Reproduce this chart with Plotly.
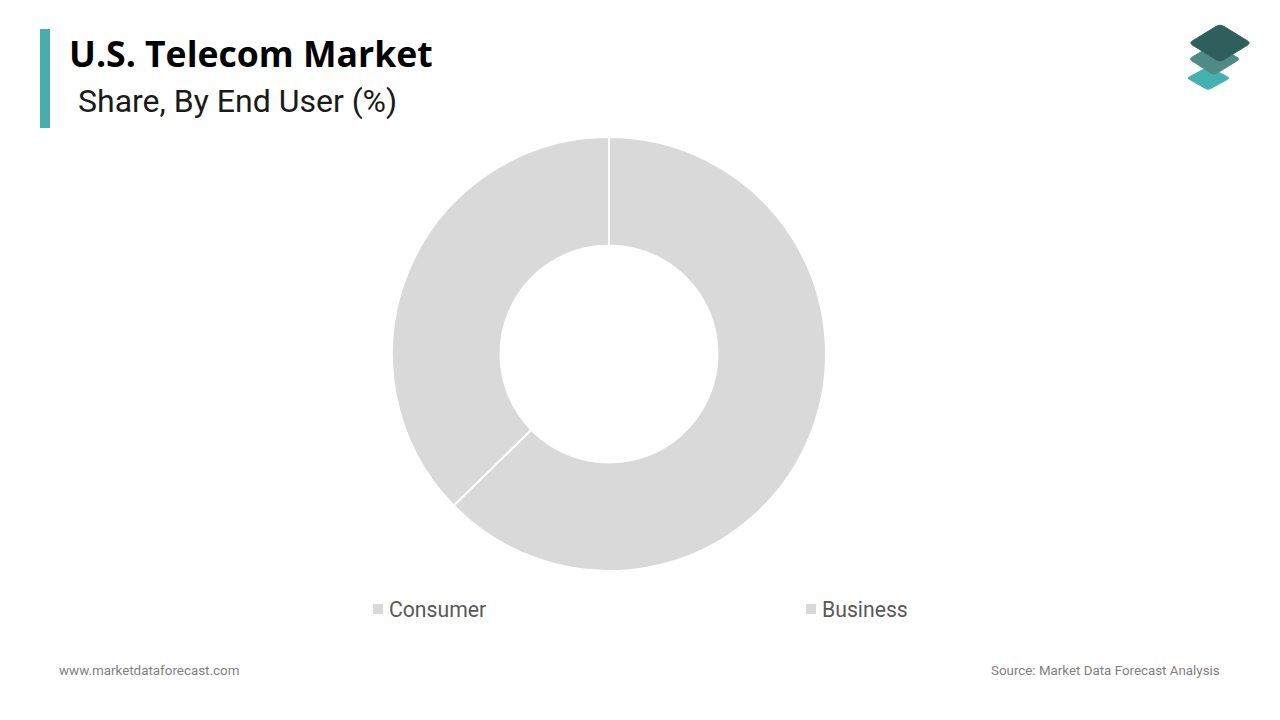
import plotly.graph_objects as go

WIDTH = 1280
HEIGHT = 720

# chart data
labels = ["Consumer", "Business"]
shares = [37.3, 62.7]
slice_colors = ["#d9d9d9", "#d9d9d9"]

title_text = "U.S. Telecom Market"
subtitle_text = "Share, By End User (%)"
site_text = "www.marketdataforecast.com"
source_text = "Source: Market Data Forecast Analysis"

# left edge of each legend entry in page pixels
legend_left = [373, 806]


def px_x(x):
    return x / WIDTH


def px_y(y):
    return 1 - y / HEIGHT


def poly(points, color, r=0.12):
    # logo pieces are given in page pixels, corners rounded a little
    parts = []
    n = len(points)
    for i, (x, y) in enumerate(points):
        px, py = points[i - 1]
        nx, ny = points[(i + 1) % n]
        ax, ay = x + (px - x) * r, y + (py - y) * r
        bx, by = x + (nx - x) * r, y + (ny - y) * r
        parts.append(f"{'M' if i == 0 else 'L'}{px_x(ax)},{px_y(ay)}")
        parts.append(f"Q{px_x(x)},{px_y(y)} {px_x(bx)},{px_y(by)}")
    return dict(type="path", xref="paper", yref="paper", path=" ".join(parts) + " Z",
                fillcolor=color, line=dict(color=color, width=1), layer="above")


def text(x, y, s, size, color, family, xanchor="left", bold=False):
    return dict(x=px_x(x), y=px_y(y), xref="paper", yref="paper", text=f"<b>{s}</b>" if bold else s,
                showarrow=False, xanchor=xanchor, yanchor="middle",
                font=dict(size=size, color=color, family=family))


fig = go.Figure(go.Pie(
    labels=labels[::-1],
    values=shares[::-1],
    hole=0.5,
    sort=False,
    direction="clockwise",
    rotation=0,
    marker=dict(colors=slice_colors, line=dict(color="white", width=2)),
    textinfo="none",
    hoverinfo="label+percent",
    showlegend=False,
    domain=dict(x=[px_x(392), px_x(826)], y=[px_y(571), px_y(137)]),
))

shapes = [
    dict(type="rect", xref="paper", yref="paper", x0=px_x(40), x1=px_x(50), y0=px_y(128), y1=px_y(29),
         fillcolor="#4aacac", line=dict(width=0)),
    poly([(1187, 78), (1208, 67), (1230, 78), (1208, 90)], "#45b0b0"),
    poly([(1189, 59), (1214, 44), (1240, 59), (1214, 75)], "#4f8a86"),
    poly([(1189, 43), (1220, 24), (1251, 43), (1220, 62)], "#2f5f5c"),
]

annotations = [
    text(67, 53, title_text, 35.6, "#000000", "Open Sans", bold=True),
    text(76, 101, subtitle_text, 32, "#1a1a1a", "Roboto"),
    text(57, 670, site_text, 13.4, "#7f7f7f", "Roboto"),
    text(1222, 670, source_text, 13.35, "#7f7f7f", "Roboto", xanchor="right"),
]

# legend entries: small square plus label
for name, color, left in zip(labels, slice_colors, legend_left):
    shapes.append(dict(type="rect", xref="paper", yref="paper",
                       x0=px_x(left), x1=px_x(left + 10), y0=px_y(614), y1=px_y(604),
                       fillcolor=color, line=dict(width=0)))
    annotations.append(text(left + 14, 609, name, 21.2, "#595959", "Roboto"))

fig.update_layout(
    width=WIDTH,
    height=HEIGHT,
    margin=dict(l=0, r=0, t=0, b=0),
    paper_bgcolor="white",
    shapes=shapes,
    annotations=annotations,
)

fig.write_html("out.html", config=dict(displayModeBar=False),
               post_script="document.body.style.margin = '0';")
